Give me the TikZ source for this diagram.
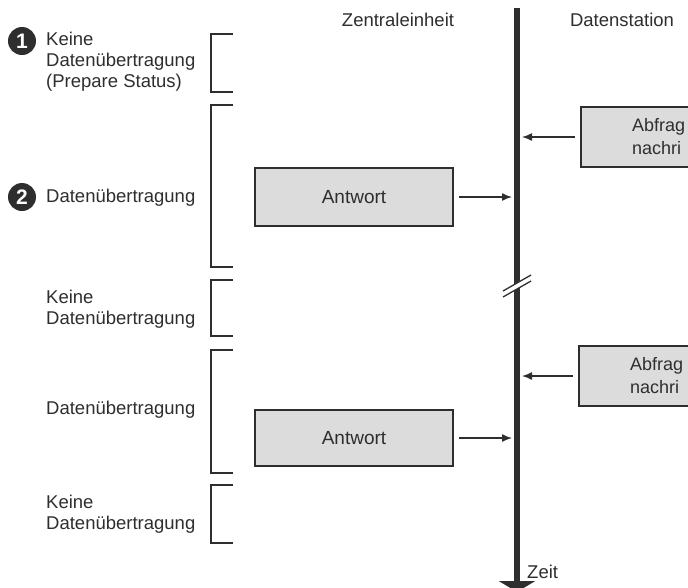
\documentclass[tikz,border=0pt]{standalone}
\usepackage{fontspec}
\setmainfont{Liberation Sans}
\usetikzlibrary{arrows.meta}
\definecolor{ink}{HTML}{2E2E2E}
\definecolor{boxfill}{HTML}{DCDCDC}
\tikzset{
  lbl/.style={font=\fontsize{18.5}{21}\selectfont, text=ink, align=left, anchor=west, inner sep=0pt},
  head/.style={font=\fontsize{18.5}{21}\selectfont, text=ink, inner sep=0pt},
  msg/.style={draw=ink, line width=2pt, fill=boxfill, minimum width=198pt, minimum height=58pt,
              font=\fontsize{19}{21}\selectfont, text=ink, align=center, inner sep=0pt},
  part/.style={font=\fontsize{18}{21}\selectfont, text=ink, anchor=west, inner sep=0pt},
  num/.style={circle, fill=ink, text=white, minimum size=28pt, inner sep=0pt,
              font=\bfseries\fontsize{21}{21}\selectfont},
  brk/.style={draw=ink, line width=1.6pt},
  flow/.style={draw=ink, line width=1.4pt, -{Latex[length=10pt,width=8pt]}},
  axis/.style={draw=ink, line width=5.5pt, -{Triangle[length=11pt,width=36pt]}},
}
\begin{document}
\begin{tikzpicture}[x=1pt,y=-1pt]
\useasboundingbox (0,0) rectangle (688,587);
\clip (0,0) rectangle (688,587);

% column headings
\node[head] (h1) at (398,20) {Zentraleinheit};
\node[head] (h2) at (622,20) {Datenstation};

% left labels
\node[num] (n1) at (22,41) {1};
\node[lbl] (t1) at (46,62) {Keine\\Datenübertragung\\(Prepare Status)};
\node[num] (n2) at (22,197) {2};
\node[lbl] (t2) at (46,198) {Datenübertragung};
\node[lbl] (t3) at (46,309.5) {Keine\\Datenübertragung};
\node[lbl] (t4) at (46,410) {Datenübertragung};
\node[lbl] (t5) at (46,514) {Keine\\Datenübertragung};

% brackets
\draw[brk] (233,34) -| (211,92) -- (233,92);
\draw[brk] (233,105) -| (211,267) -- (233,267);
\draw[brk] (233,280) -| (211,336) -- (233,336);
\draw[brk] (233,350) -| (211,473) -- (233,473);
\draw[brk] (233,485) -| (211,543) -- (233,543);

% time axis
\coordinate (top) at (517,8);
\coordinate (bot) at (517,592);
\draw[axis] (top) -- (bot);
\node[head, anchor=west] (zeit) at (527,572) {Zeit};

% break mark
\fill[white] (503,291) -- (530,275) -- (530,281) -- (503,297) -- cycle;
\draw[ink, line width=1.3pt] (503,291) -- (531,275);
\draw[ink, line width=1.3pt] (503,297) -- (531,281);

% message boxes
\node[msg] (a1) at (354,197) {Antwort};
\node[msg, minimum height=56pt] (a2) at (354,438) {Antwort};
\node[msg, minimum width=190pt, minimum height=60pt] (q1) at (676,137) {};
\node[msg, minimum width=190pt, minimum height=60pt] (q2) at (674,376) {};
\node[part] (q1a) at (632,127) {Abfrag};
\node[part] (q1b) at (632,148) {nachri};
\node[part] (q2a) at (630,366) {Abfrag};
\node[part] (q2b) at (630,387) {nachri};

% arrows
\draw[flow] ([xshift=5pt]a1.east) -- ([xshift=-5pt]a1.east -| top);
\draw[flow] ([xshift=5pt]a2.east) -- ([xshift=-5pt]a2.east -| top);
\draw[flow] ([xshift=-5pt]q1.west) -- ([xshift=5pt]q1.west -| top);
\draw[flow] ([xshift=-5pt]q2.west) -- ([xshift=5pt]q2.west -| top);
\end{tikzpicture}
\end{document}
